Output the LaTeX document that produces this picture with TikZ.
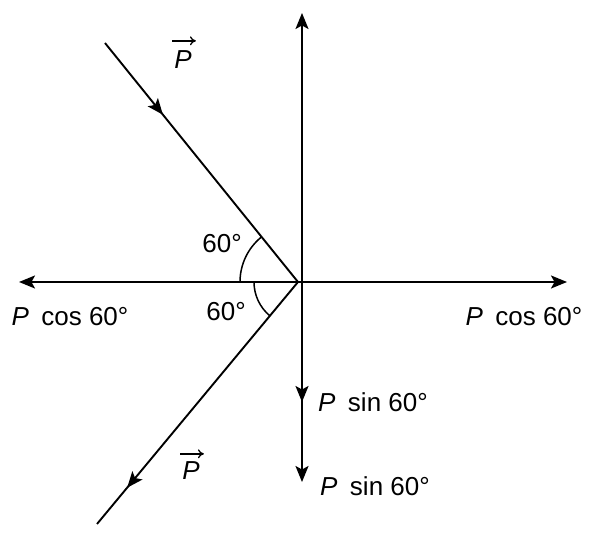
\documentclass[tikz,border=0pt]{standalone}
\usepackage{fontspec}
\setmainfont{Liberation Sans}
\usetikzlibrary{arrows.meta,decorations.markings}
\begin{document}
\begin{tikzpicture}[x=1pt,y=-1pt,
  vec/.style={line width=1.9pt},
  tip/.style={-{Stealth[length=16pt,width=13pt,inset=3.5pt]}},
  midarrow/.style={postaction={decorate},decoration={markings,mark=at position #1 with {\arrow{Stealth[length=16pt,width=13pt,inset=3.5pt]}}}},
  anglearc/.style={line width=1.5pt},
  lbl/.style={font=\fontsize{26}{31}\selectfont, inner sep=0pt},
  accent/.style={line width=1.3pt,-{To[length=6pt,width=9pt]}}
]
\useasboundingbox (0,0) rectangle (590,534);
\coordinate (O) at (298,282);
\coordinate (C) at (302,282);
\coordinate (A) at (105,43);
\coordinate (B) at (97,524);
\coordinate (T) at (302,13);
\coordinate (D) at (302,482);
\coordinate (L) at (19,282);
\coordinate (R) at (567,282);
\draw[vec,tip] (C) -- (T);
\draw[vec,tip] (C) -- (L);
\draw[vec,tip] (C) -- (R);
\draw[vec,tip,midarrow=0.60] (C) -- (D);
\draw[vec,midarrow=0.3] (A) -- (O);
\draw[vec,midarrow=0.85] (O) -- (B);
\draw[anglearc] (O) ++(180:58) arc[start angle=180, end angle=231.1, radius=58];
\draw[anglearc] (O) ++(180:44) arc[start angle=180, end angle=129.7, radius=44];
\node[lbl] (p1) at (183,60) {\textit{P}};
\draw[accent] ([xshift=-2pt,yshift=10pt]p1.north west) -- ([xshift=4pt,yshift=10pt]p1.north east);
\node[lbl] (p2) at (191,471) {\textit{P}};
\draw[accent] ([xshift=-2pt,yshift=8pt]p2.north west) -- ([xshift=4pt,yshift=8pt]p2.north east);
\node[lbl] (a1) at (222,244) {60°};
\node[lbl] (a2) at (226,312) {60°};
\node[lbl] (cl) at (70,317) {\textit{P}\hspace{0.2em} cos 60°};
\node[lbl] (cr) at (524,317) {\textit{P}\hspace{0.2em} cos 60°};
\node[lbl] (s1) at (373,402) {\textit{P}\hspace{0.2em} sin 60°};
\node[lbl] (s2) at (375,486) {\textit{P}\hspace{0.2em} sin 60°};
\end{tikzpicture}
\end{document}
